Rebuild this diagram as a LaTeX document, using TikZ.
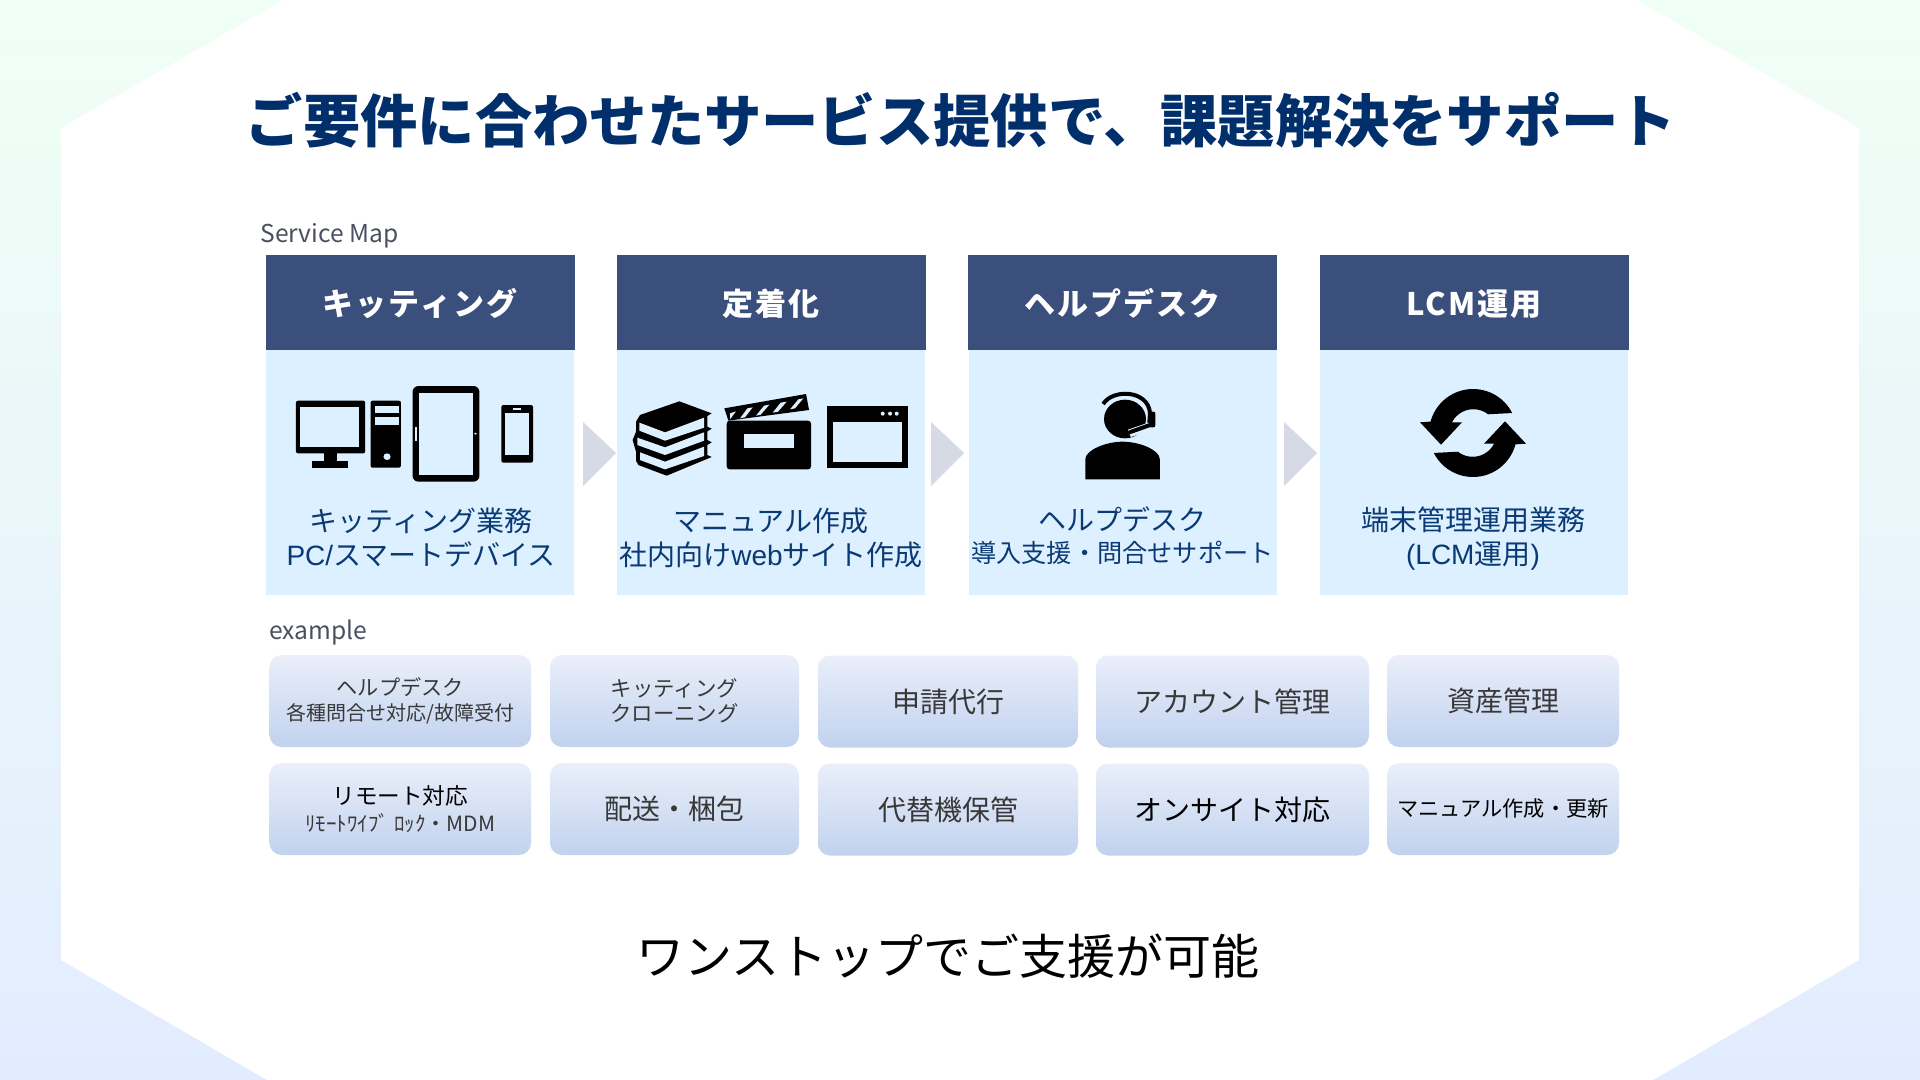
\documentclass[tikz,border=0pt]{standalone}
\usepackage{fontspec}
\setmainfont{Noto Sans CJK JP}
\newfontfamily\headfont[LetterSpace=7]{Noto Sans CJK JP}
\newfontfamily\latfont{Liberation Sans}
\usepackage{tikz}
\definecolor{bggreen}{HTML}{F0FFF5}
\definecolor{bgblue}{HTML}{E2ECFF}
\definecolor{titleblue}{HTML}{002F6C}
\definecolor{headblue}{HTML}{3B4F7D}
\definecolor{panelblue}{HTML}{DDF0FF}
\definecolor{textblue}{HTML}{0A3A75}
\definecolor{chevgray}{HTML}{D6DAE5}
\definecolor{labelgray}{HTML}{4A5060}
\definecolor{boxtop}{HTML}{EAEFFA}
\definecolor{boxbottom}{HTML}{C1D2EE}
\tikzset{
  headbox/.style={fill=headblue,text=white,minimum width=154.5pt,minimum height=47.5pt,inner sep=0pt,text height=14pt,text depth=1pt,font=\headfont\bfseries\fontsize{15.5}{18}\selectfont},
  panelbox/.style={fill=panelblue,minimum width=154pt,minimum height=122.5pt,inner sep=0pt},
  paneltext/.style={text=textblue,align=center,inner sep=0pt,font=\fontsize{14}{17}\selectfont},
  exbox/.style={top color=boxtop,bottom color=boxbottom,rounded corners=6pt,minimum height=46pt,inner sep=0pt,align=center,text=black!78,font=\fontsize{14}{17}\selectfont},
  chev/.style={fill=chevgray},
  zoomleft/.style={shift={(250,370)},x=0.2232pt,y=-0.1667pt},
  zoomright/.style={shift={(950,370)},x=0.2232pt,y=-0.1667pt},
  zoomfine/.style={shift={(630,390)},x=0.1667pt,y=-0.1667pt},
}
\begin{document}
\begin{tikzpicture}[x=0.5pt,y=-0.5pt]
\useasboundingbox (0,0) rectangle (1920,1080);
\shade[top color=bggreen,bottom color=bgblue] (0,0) rectangle (1920,1080);
\fill[white] (283,0) -- (1637,0) -- (1859,128) -- (1859,960) -- (1653,1080) -- (267,1080) -- (61,960) -- (61,128) -- cycle;

\node[text=titleblue,inner sep=0pt,font=\bfseries\fontsize{28.65}{34}\selectfont] (title) at (961,120) {ご要件に合わせたサービス提供で、課題解決をサポート};
\node[text=labelgray,inner sep=0pt,anchor=west,font=\fontsize{12.3}{16}\selectfont] (maplabel) at (260,236) {Service Map};
\node[text=labelgray,inner sep=0pt,anchor=west,font=\fontsize{12.3}{16}\selectfont] (examplelabel) at (269,632.5) {example};

% top row
\node[panelbox] (kitpanel) at (419.5,472.5) {};
\node[panelbox] (fixpanel) at (770.5,472.5) {};
\node[panelbox] (deskpanel) at (1122.5,472.5) {};
\node[panelbox] (lcmpanel) at (1473.5,472.5) {};
\node[headbox] (kithead) at (420,302.5) {キッティング};
\node[headbox] (fixhead) at (771,302.5) {定着化};
\node[headbox] (deskhead) at (1122.5,302.5) {ヘルプデスク};
\node[headbox] (lcmhead) at (1474,302.5) {LCM運用};

\fill[chev] (583,422) -- (616,453) -- (583,486) -- cycle;
\fill[chev] (931,422) -- (964,453) -- (931,486) -- cycle;
\fill[chev] (1284,422) -- (1317,453) -- (1284,486) -- cycle;

\node[paneltext] (kittext) at (421,538) {キッティング業務\\{\latfont PC/}スマートデバイス};
\node[paneltext] (fixtext) at (771,538) {マニュアル作成\\社内向け{\latfont web}サイト作成};
\node[paneltext,font=\fontsize{14}{16}\selectfont] (desktext) at (1122.5,535.5) {ヘルプデスク\\{\fontsize{12.6}{16}\selectfont 導入支援・問合せサポート}};
\node[paneltext] (lcmtext) at (1473,539) {端末管理運用業務\\{\latfont (LCM}運用{\latfont )}};

% devices
\begin{scope}[zoomleft]
\fill[rounded corners=1pt] (103,92) rectangle (258,250);
\fill[panelblue] (113,112) rectangle (245,230);
\fill (165,250) rectangle (195,272);
\fill (138,272) rectangle (220,293);
\fill[rounded corners=1pt] (270,92) rectangle (338,293);
\fill[panelblue] (280,107) rectangle (334,128);
\fill[panelblue] (280,141) rectangle (334,164);
\fill[panelblue] (307,260) ellipse [x radius=8,y radius=10];
\fill[rounded corners=3pt] (364,48) rectangle (514,335);
\fill[panelblue] (378,70) rectangle (500,314);
\fill[panelblue] (369,172) rectangle (373,212);
\fill[panelblue] (505,191) circle [radius=3];
\fill[rounded corners=1pt] (563,105) rectangle (634,278);
\fill[panelblue] (572,128) rectangle (626,256);
\fill[panelblue] (590,113) rectangle (607,121);
\end{scope}

% books, clapper, window
\begin{scope}[zoomfine]
\fill (148,34) -- (245,70) -- (232,78) -- (232,110) -- (245,116) -- (232,124) -- (232,150) -- (245,157) -- (232,165) -- (232,195) -- (245,201) -- (110,257) -- (25,225) -- (18,212) -- (18,185) -- (8,150) -- (18,125) -- (18,95) -- (30,75) -- cycle;
\fill[panelblue] (28,98) -- (105,127) -- (222,83) -- (222,113) -- (105,152) -- (28,122) -- cycle;
\fill[panelblue] (22,143) -- (105,172) -- (222,127) -- (222,152) -- (105,195) -- (22,165) -- cycle;
\fill[panelblue] (30,187) -- (105,215) -- (222,170) -- (222,198) -- (105,238) -- (30,210) -- cycle;
\fill[rounded corners=1.5pt] (290,92) rectangle (543,238);
\fill[panelblue] (341,133) rectangle (493,173);
\fill (283,55) -- (528,12) -- (537,60) -- (295,92) -- cycle;
\fill[panelblue] (300,88) -- (300,70) -- (318,64) -- cycle;
\fill[panelblue] (330,85) -- (352,55) -- (368,52) -- (345,82) -- cycle;
\fill[panelblue] (378,77) -- (402,47) -- (418,44) -- (392,74) -- cycle;
\fill[panelblue] (428,68) -- (452,38) -- (470,35) -- (444,65) -- cycle;
\fill[panelblue] (480,58) -- (505,28) -- (520,25) -- (495,55) -- cycle;
\fill (591,47) rectangle (833,235);
\fill[panelblue] (609,96) rectangle (816,217);
\fill[panelblue] (758,71) circle [radius=6];
\fill[panelblue] (780,71) circle [radius=6];
\fill[panelblue] (800,71) circle [radius=6];
\end{scope}

% headset person
\begin{scope}[zoomright]
\fill (303,328) -- (303,268) .. controls (303,240) and (350,215) .. (386,215) .. controls (425,215) and (470,240) .. (470,268) -- (470,328) -- cycle;
\fill (392,147) ellipse [x radius=47,y radius=58];
\draw[line width=2pt] (343,102) .. controls (365,55) and (445,60) .. (448,130) -- (446,165);
\draw[panelblue,line width=4pt] (450,168) -- (402,190);
\draw[line width=2pt,line cap=round] (448,165) -- (404,186);
\fill[rounded corners=1pt] (445,125) rectangle (460,172);
\end{scope}

% sync arrows
\begin{scope}[shift={(1473,433)},y=0.5pt]
\fill (27:44) arc [start angle=27,end angle=165,radius=44] -- (-53,10.7) -- (-32,-11.7) -- (-11,10.7) -- (-21,10.7) arc [start angle=153,end angle=52,radius=24] -- cycle;
\begin{scope}[rotate=180]
\fill (27:44) arc [start angle=27,end angle=165,radius=44] -- (-53,10.7) -- (-32,-11.7) -- (-11,10.7) -- (-21,10.7) arc [start angle=153,end angle=52,radius=24] -- cycle;
\end{scope}
\end{scope}

% example boxes
\node[exbox,minimum width=130.75pt,font=\fontsize{10.6}{12.5}\selectfont] (helpbox) at (400.25,701) {ヘルプデスク\\{\fontsize{10}{12.5}\selectfont 各種問合せ対応/故障受付}};
\node[exbox,minimum width=124.5pt,font=\fontsize{10.7}{12.7}\selectfont] (kitbox) at (674.5,701) {キッティング\\クローニング};
\node[exbox,minimum width=130pt] (applybox) at (948,701.5) {申請代行};
\node[exbox,minimum width=136.5pt] (accountbox) at (1232.5,701.5) {アカウント管理};
\node[exbox,minimum width=116pt] (assetbox) at (1503,701) {資産管理};
\node[exbox,minimum width=130.75pt,font=\fontsize{10.5}{13.5}\selectfont] (remotebox) at (400.25,809) {{\fontsize{11.3}{13.5}\selectfont\color{black}リモート対応}\\ﾘﾓｰﾄﾜｲﾌﾞ ﾛｯｸ・MDM};
\node[exbox,minimum width=124.5pt] (shipbox) at (674.5,809) {配送・梱包};
\node[exbox,minimum width=130pt] (sparebox) at (948,809.5) {代替機保管};
\node[exbox,minimum width=136.5pt,text=black] (onsitebox) at (1232.5,809.5) {オンサイト対応};
\node[exbox,minimum width=116pt,text=black,font=\fontsize{10.6}{13}\selectfont] (manualbox) at (1503,809) {マニュアル作成・更新};

\node[text=black,inner sep=0pt,font=\fontsize{24}{29}\selectfont] (closing) at (948,956) {ワンストップでご支援が可能};
\end{tikzpicture}
\end{document}
